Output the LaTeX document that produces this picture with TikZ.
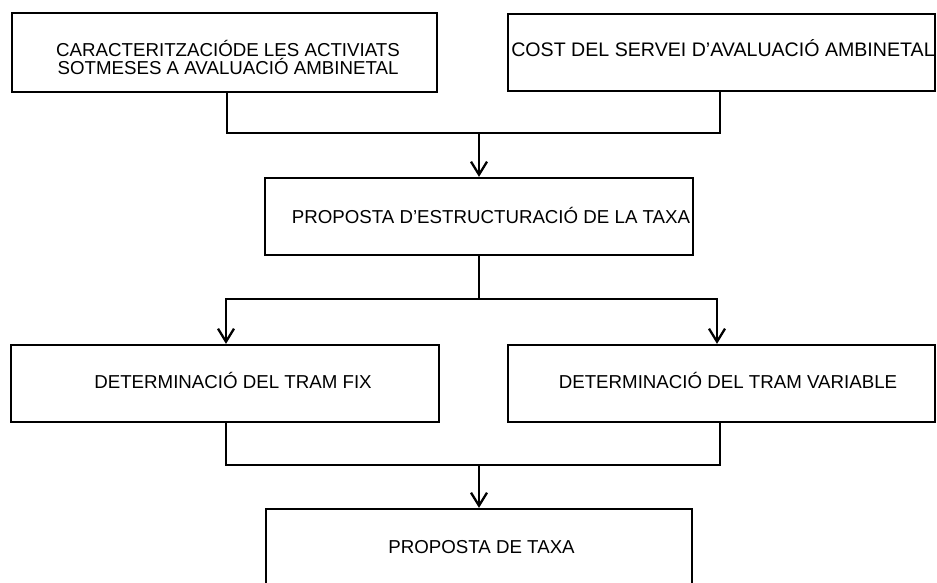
\documentclass[tikz,border=0pt]{standalone}
\usepackage{fontspec}
\setmainfont{Liberation Sans}
\usepackage{tikz}
\usetikzlibrary{arrows.meta}

\begin{document}
\begin{tikzpicture}[x=1pt, y=-1pt,
    box/.style={draw, line width=2.3pt, inner sep=0pt},
    txt/.style={inner sep=0pt, font=\fontsize{18.7}{18.5}\selectfont, align=center},
    link/.style={line width=2.3pt},
    arr/.style={link, -{Straight Barb[length=13pt, width=16pt, line width=2.3pt]}}]
    \useasboundingbox (0,0) rectangle (937,583);
    % boxes
    \node[box, minimum width=425pt, minimum height=79pt] (cara) at (224.5,52.5) {};
    \node[box, minimum width=427pt, minimum height=77pt] (cost) at (721.5,52.5) {};
    \node[box, minimum width=428pt, minimum height=77pt] (estr) at (479,216.5) {};
    \node[box, minimum width=428pt, minimum height=77pt] (fix) at (225,383.5) {};
    \node[box, minimum width=427pt, minimum height=77pt] (var) at (721.5,383.5) {};
    \node[box, minimum width=426pt, minimum height=76pt] (prop) at (479,547) {};
    % texts
    \node[txt, anchor=base] (caratxt) at (228,75) {CARACTERITZACIÓDE LES ACTIVIATS\\SOTMESES A AVALUACIÓ AMBINETAL};
    \node[txt, anchor=base, font=\fontsize{19.6}{20}\selectfont] (costtxt) at (723,57) {COST DEL SERVEI D’AVALUACIÓ AMBINETAL};
    \node[txt, anchor=base] (estrtxt) at (491,223) {PROPOSTA D’ESTRUCTURACIÓ DE LA TAXA};
    \node[txt, anchor=base] (fixtxt) at (233,388) {DETERMINACIÓ DEL TRAM FIX};
    \node[txt, anchor=base] (vartxt) at (728,388) {DETERMINACIÓ DEL TRAM VARIABLE};
    \node[txt, anchor=base] (proptxt) at (481.5,553) {PROPOSTA DE TAXA};
    % connectors
    \coordinate (j1) at (479,133);
    \coordinate (j2) at (479,299);
    \coordinate (j3) at (479,465);
    \draw[link] ([xshift=2.5pt]cara.south) |- (j1);
    \draw[link] ([xshift=-1.5pt]cost.south) |- (j1);
    \draw[arr] (j1) -- (estr.north);
    \draw[link] (estr.south) -- (j2);
    \draw[arr] (j2) -| ([xshift=1pt]fix.north);
    \draw[arr] (j2) -| ([xshift=-4.5pt]var.north);
    \draw[link] ([xshift=1pt]fix.south) |- (j3);
    \draw[link] ([xshift=-1.5pt]var.south) |- (j3);
    \draw[arr] (j3) -- (prop.north);
\end{tikzpicture}
\end{document}
